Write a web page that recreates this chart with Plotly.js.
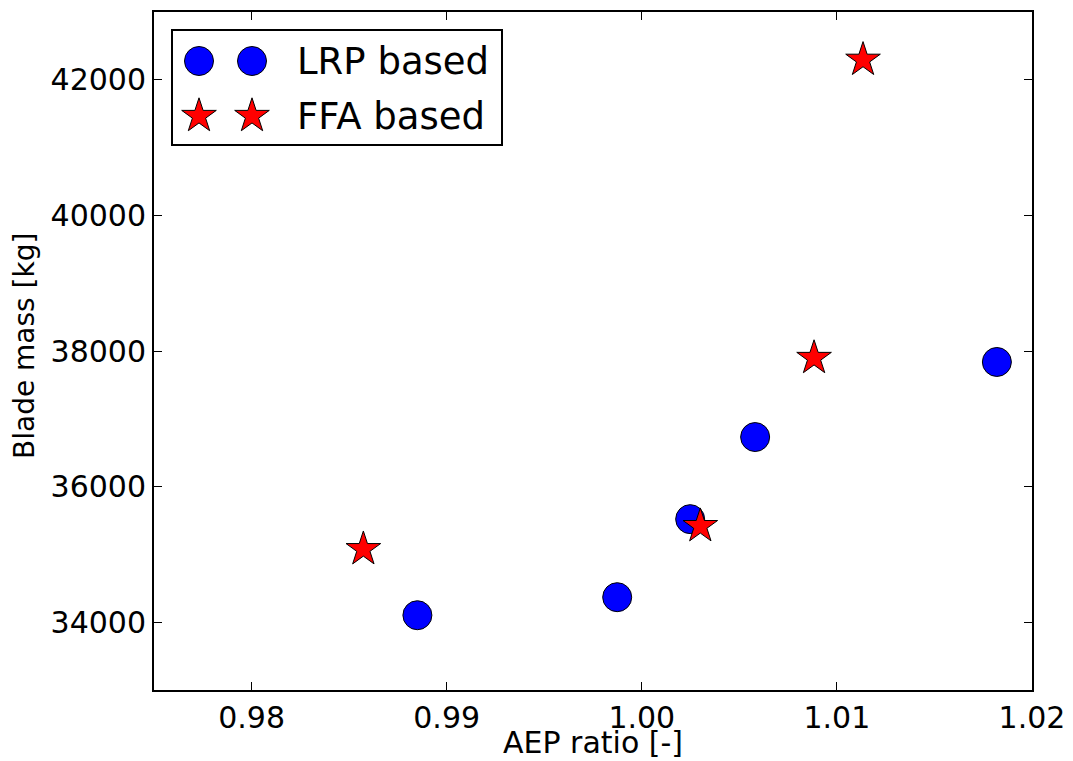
<!DOCTYPE html>
<html>
<head>
<meta charset="utf-8">
<script src="https://cdn.plot.ly/plotly-3.0.1.min.js"></script>
<style>html,body{margin:0;padding:0;background:#fff;}#chart{width:1073px;height:761px;}</style>
</head>
<body>
<div id="chart"></div>
<script>
// Data
var lrpAEP  = [0.9885, 0.99874, 1.00248, 1.00581, 1.0182];
var lrpMass = [34103, 34369, 35520, 36731, 37838];
var ffaAEP  = [0.98573, 1.0030, 1.00883, 1.01134];
var ffaMass = [35077, 35417, 37897, 42295];
var seriesNames = ["LRP based", "FFA based"];
var xTitle = "AEP ratio [-]";
var yTitle = "Blade mass [kg]";
var xTickVals = [0.98, 0.99, 1.00, 1.01, 1.02];
var xTickText = ["0.98", "0.99", "1.00", "1.01", "1.02"];
var yTickVals = [34000, 36000, 38000, 40000, 42000];
var yTickText = ["34000", "36000", "38000", "40000", "42000"];

var FONT = "DejaVu Sans, Arial, sans-serif";
var circleStyle = {symbol: "circle", size: 29, color: "#0000ff", line: {color: "#000", width: 1}};
var starStyle = {symbol: "star", size: 26, color: "#ff0000", line: {color: "#000", width: 1}};

// legend layout (pixel coordinates inside plot area)
var PW = 878, PH = 678;
var legX = [45, 98];
var legY = [49, 104];

var traces = [
  {x: lrpAEP, y: lrpMass, mode: "markers", type: "scatter", marker: circleStyle, name: seriesNames[0], showlegend: false, cliponaxis: false},
  {x: ffaAEP, y: ffaMass, mode: "markers", type: "scatter", marker: starStyle, name: seriesNames[1], showlegend: false, cliponaxis: false},
  {x: legX, y: [legY[0], legY[0]], xaxis: "x2", yaxis: "y2", mode: "markers", type: "scatter", marker: circleStyle, showlegend: false, hoverinfo: "skip"},
  {x: legX, y: [legY[1], legY[1]], xaxis: "x2", yaxis: "y2", mode: "markers", type: "scatter", marker: starStyle, showlegend: false, hoverinfo: "skip"}
];

var axCommon = {
  showgrid: false, zeroline: false, showline: true, linecolor: "#000", linewidth: 2,
  mirror: "allticks", ticks: "inside", ticklen: 8, tickwidth: 1, tickcolor: "#000",
  tickfont: {family: FONT, size: 30, color: "#000"}
};

var layout = {
  width: 1073, height: 761,
  margin: {l: 154, r: 41, t: 12, b: 71, pad: 0},
  paper_bgcolor: "#fff", plot_bgcolor: "#fff",
  showlegend: false,
  font: {family: FONT, color: "#000"},
  xaxis: Object.assign({}, axCommon, {
    range: [0.975, 1.02], tickvals: xTickVals, ticktext: xTickText
  }),
  yaxis: Object.assign({}, axCommon, {
    range: [33000, 43000], tickvals: yTickVals, ticktext: yTickText
  }),
  xaxis2: {overlaying: "x", range: [0, PW], visible: false, fixedrange: true},
  yaxis2: {overlaying: "y", range: [PH, 0], visible: false, fixedrange: true},
  shapes: [
    {type: "rect", xref: "x2", yref: "y2", x0: 18, x1: 348, y0: 18, y1: 133,
     line: {color: "#000", width: 2}, fillcolor: "rgba(255,255,255,1)", layer: "below"}
  ],
  annotations: [
    {xref: "x2", yref: "y2", x: 141, y: legY[0], text: seriesNames[0], showarrow: false, xanchor: "left", yanchor: "middle", font: {family: FONT, size: 37, color: "#000"}},
    {xref: "x2", yref: "y2", x: 141, y: legY[1], text: seriesNames[1], showarrow: false, xanchor: "left", yanchor: "middle", font: {family: FONT, size: 37, color: "#000"}},
    {xref: "paper", yref: "paper", x: 0.5, y: 0, yshift: -52, text: xTitle, showarrow: false, xanchor: "center", yanchor: "middle", font: {family: FONT, size: 30, color: "#000"}},
    {xref: "paper", yref: "paper", x: 0, y: 1 - (346 - 12) / 678, xshift: -129, text: yTitle, textangle: -90, showarrow: false, xanchor: "center", yanchor: "middle", font: {family: FONT, size: 28, color: "#000"}}
  ]
};

Plotly.newPlot("chart", traces, layout, {displayModeBar: false, staticPlot: true});
</script>
</body>
</html>
